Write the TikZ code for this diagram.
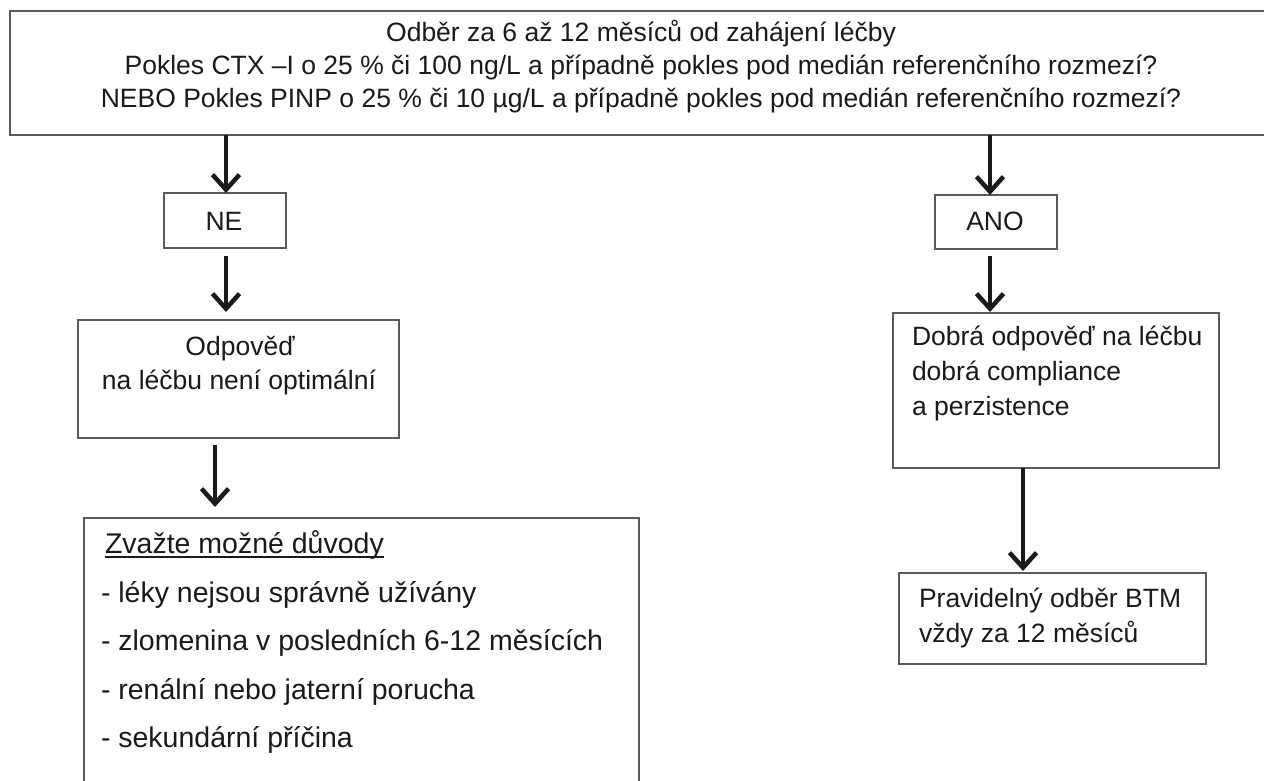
\documentclass[tikz,border=0pt]{standalone}
\usepackage{fontspec}
\setmainfont{Liberation Sans}
\usetikzlibrary{arrows.meta}
\definecolor{boxgray}{HTML}{5A5A5A}
\definecolor{inkblack}{HTML}{1A1A1A}
\begin{document}
\begin{tikzpicture}[x=1pt,y=-1pt,
  box/.style={draw=boxgray, line width=1.5pt, rectangle, inner sep=0pt, outer sep=0pt, anchor=north west},
  arr/.style={draw=inkblack, line width=4.5pt, -{Straight Barb[length=15pt,width=27pt,line width=4.5pt]}},
  txt/.style={inner sep=0pt, outer sep=0pt, text=inkblack, font=\fontsize{26.5}{31}\selectfont},
  bigtxt/.style={txt, font=\fontsize{28.5}{34}\selectfont}]
\useasboundingbox (0,0) rectangle (1264,780);
\fill[white] (0,0) rectangle (1264,780);
% boxes
\node[box, minimum width=1262pt, minimum height=124pt] (top) at (10,11) {};
\node[box, minimum width=122pt, minimum height=55pt] (ne) at (164,193) {};
\node[box, minimum width=122pt, minimum height=54pt] (ano) at (935,195) {};
\node[box, minimum width=321pt, minimum height=118pt] (odp) at (78,320) {};
\node[box, minimum width=326pt, minimum height=155pt] (dob) at (893,313) {};
\node[box, minimum width=555pt, minimum height=280pt] (bot) at (84,518) {};
\node[box, minimum width=307pt, minimum height=91pt] (pra) at (899,573) {};
% texts
\node[txt, anchor=base] (t1) at (641,41) {Odběr za 6 až 12 měsíců od zahájení léčby};
\node[txt, anchor=base] (t2) at (641,74) {Pokles CTX –I o 25 \% či 100 ng/L a případně pokles pod medián referenčního rozmezí?};
\node[txt, anchor=base] (t3) at (641,107) {NEBO Pokles PINP o 25 \% či 10 µg/L a případně pokles pod medián referenčního rozmezí?};
\node[txt, anchor=base] (tne) at (224,230) {NE};
\node[txt, anchor=base] (tano) at (995,230) {ANO};
\node[txt, anchor=base] (to1) at (240,355) {Odpověď};
\node[txt, anchor=base] (to2) at (239,389) {na léčbu není optimální};
\node[txt, anchor=base west] (td1) at (912,345) {Dobrá odpověď na léčbu};
\node[txt, anchor=base west] (td2) at (912,380) {dobrá compliance};
\node[txt, anchor=base west] (td3) at (912,415) {a perzistence};
\node[txt, anchor=base west] (tp1) at (919,607) {Pravidelný odběr BTM};
\node[txt, anchor=base west] (tp2) at (919,642) {vždy za 12 měsíců};
\node[bigtxt, anchor=base west] (zv) at (105,553) {Zvažte možné důvody};
\draw[inkblack, line width=1.3pt] ([yshift=-4pt]zv.base west) -- ([yshift=-4pt]zv.base east);
\node[bigtxt, anchor=base west] (b1) at (101,602) {- léky nejsou správně užívány};
\node[bigtxt, anchor=base west] (b2) at (101,650) {- zlomenina v posledních 6-12 měsících};
\node[bigtxt, anchor=base west] (b3) at (101,699) {- renální nebo jaterní porucha};
\node[bigtxt, anchor=base west] (b4) at (101,747) {- sekundární příčina};
% arrows
\coordinate (l1) at (226,135);
\coordinate (l3) at (215,438);
\coordinate (r1) at (990,135);
\coordinate (r3) at (1023,468);
\draw[arr] (l1) -- (l1 |- ne.north);
\draw[arr, shorten <=8pt, shorten >=8pt] (ne.south -| l1) -- (l1 |- odp.north);
\draw[arr, shorten <=7pt, shorten >=11pt] (l3) -- (l3 |- bot.north);
\draw[arr] (r1) -- (r1 |- ano.north);
\draw[arr, shorten <=7pt, shorten >=1pt] (ano.south -| r1) -- (r1 |- dob.north);
\draw[arr, shorten >=2pt] (r3) -- (r3 |- pra.north);
\end{tikzpicture}
\end{document}
